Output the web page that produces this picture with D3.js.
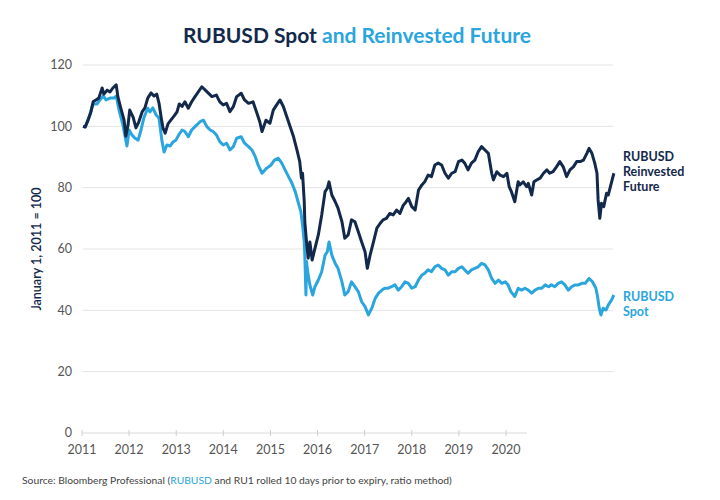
<!DOCTYPE html>
<html>
<head>
<meta charset="utf-8">
<script src="https://cdn.jsdelivr.net/npm/d3@7.9.0/dist/d3.min.js"></script>
<style>
  body { margin: 0; background: #fff; }
  svg { font-family: Lato, "Open Sans", sans-serif; }
</style>
</head>
<body>
<svg id="chart" width="720" height="500"></svg>
<script>
// decimal year, index value (Jan 1 2011 = 100)
const futureT = [2011.0, 2011.04, 2011.09, 2011.14, 2011.18, 2011.23, 2011.28, 2011.34, 2011.37, 2011.43, 2011.48, 2011.53, 2011.59, 2011.62, 2011.67, 2011.73, 2011.76, 2011.80, 2011.83, 2011.89, 2011.94, 2011.99,
  2012.05, 2012.10, 2012.15, 2012.21, 2012.26, 2012.31, 2012.35, 2012.39, 2012.42, 2012.46, 2012.51, 2012.56, 2012.62, 2012.67, 2012.71, 2012.76, 2012.81, 2012.87, 2012.93, 2012.99,
  2013.11, 2013.20, 2013.29, 2013.37, 2013.43, 2013.49, 2013.55, 2013.61, 2013.67, 2013.73, 2013.81, 2013.87, 2013.94,
  2014.02, 2014.09, 2014.14, 2014.18, 2014.25, 2014.32, 2014.38, 2014.44, 2014.50, 2014.56, 2014.62, 2014.68, 2014.74, 2014.80, 2014.85, 2014.88, 2014.90, 2014.93, 2014.94, 2014.97,
  2015.00, 2015.03, 2015.07, 2015.12, 2015.18, 2015.24, 2015.30, 2015.34, 2015.37, 2015.42, 2015.48, 2015.53, 2015.60, 2015.65, 2015.71, 2015.77, 2015.83, 2015.89, 2015.95,
  2016.01, 2016.05, 2016.10, 2016.16, 2016.22, 2016.28, 2016.33, 2016.39, 2016.45, 2016.51, 2016.57, 2016.63, 2016.69, 2016.72, 2016.78, 2016.84, 2016.90, 2016.96,
  2017.02, 2017.07, 2017.13, 2017.19, 2017.25, 2017.31, 2017.37, 2017.43, 2017.49, 2017.55, 2017.61, 2017.67, 2017.73, 2017.78, 2017.84, 2017.90, 2017.96,
  2018.02, 2018.08, 2018.14, 2018.20, 2018.26, 2018.29, 2018.35, 2018.41, 2018.47, 2018.53, 2018.57, 2018.61, 2018.67, 2018.73, 2018.76, 2018.82, 2018.88, 2018.91, 2018.97,
  2019.01, 2019.06, 2019.12, 2019.18, 2019.24, 2019.29, 2019.35, 2019.41, 2019.47, 2019.53, 2019.59, 2019.65, 2019.71, 2019.77, 2019.83, 2019.89, 2019.95, 2019.99,
  2020.04, 2020.09, 2020.13, 2020.15, 2020.18, 2020.21, 2020.25, 2020.30, 2020.33, 2020.39, 2020.43];
const futureV = [100, 99.8, 102, 104.7, 108, 108.6, 109.2, 112.5, 110.5, 111.8, 111.2, 112.5, 113.5, 109.6, 106, 102, 96.8, 100.4, 105.3, 103, 99.5, 101.4,
  104.7, 106, 109.2, 110.9, 109.9, 110.5, 107.6, 102.7, 99.5, 97.8, 100.8, 102, 103.4, 104.7, 107.3, 106.5, 108, 105.9, 108, 109.7,
  112.9, 111.3, 109.7, 110.2, 108, 107, 107.5, 104.8, 106.4, 109.7, 110.8, 108.6, 107.5,
  108, 104.3, 101.5, 98.3, 102, 101, 105.3, 107, 108.6, 106.4, 103.1, 99.9, 96.6, 92.3, 88.5, 83.1, 84.7, 75.4, 68.9, 62.3,
  57, 62.3, 56.4, 60.2, 64.6, 71.1, 78.7, 79.8, 81.9, 77.6, 75.4, 73.3, 68.9, 63.5, 64.6, 69.5, 68.9, 65.6, 62.3,
  59.1, 53.7, 58, 62.3, 66.8, 68.4, 69.5, 70, 71.6, 71.1, 72.7, 71.6, 74.3, 74.9, 76.5, 73.8, 72.7, 79.2,
  80.9, 81.9, 84.1, 83.6, 87.4, 88, 87.4, 84.7, 83.1, 84.7, 85.2, 88.5, 89, 88, 85.8, 88, 89,
  91.7, 93.4, 92.3, 91.2, 84.7, 82.5, 85.2, 84.1, 83.6, 84.7, 80.3, 78.7, 75.4, 81.9, 80.9, 81.9, 80.3, 81.4, 77.6,
  81.9, 82.5, 83.1, 84.7, 85.8, 84.7, 85.2, 86.8, 88.5, 86.8, 83.6, 85.8, 86.8, 88.5, 88.5, 89, 91.2, 92.8,
  91.2, 88, 84.7, 76, 70, 74.9, 73.8, 78.2, 77.6, 81.9, 84.7];

const spotT = [2011.0, 2011.04, 2011.12, 2011.18, 2011.25, 2011.30, 2011.36, 2011.41, 2011.48, 2011.55, 2011.59, 2011.64, 2011.71, 2011.78, 2011.82, 2011.87, 2011.92, 2011.98,
  2012.03, 2012.08, 2012.15, 2012.19, 2012.24, 2012.30, 2012.35, 2012.40, 2012.44, 2012.49, 2012.55, 2012.60, 2012.65, 2012.71, 2012.76, 2012.81, 2012.87, 2012.93, 2012.99,
  2013.08, 2013.14, 2013.20, 2013.26, 2013.31, 2013.37, 2013.43, 2013.49, 2013.55, 2013.61, 2013.67, 2013.73, 2013.81, 2013.87, 2013.94,
  2014.00, 2014.06, 2014.11, 2014.18, 2014.26, 2014.34, 2014.40, 2014.47, 2014.53, 2014.59, 2014.65, 2014.71, 2014.77, 2014.82, 2014.87, 2014.90, 2014.93, 2014.94, 2014.96, 2014.97,
  2015.00, 2015.03, 2015.08, 2015.12, 2015.18, 2015.24, 2015.30, 2015.34, 2015.37, 2015.42, 2015.48, 2015.53, 2015.60, 2015.65, 2015.71, 2015.77, 2015.83, 2015.89, 2015.95,
  2016.01, 2016.07, 2016.13, 2016.19, 2016.25, 2016.31, 2016.36, 2016.42, 2016.48, 2016.54, 2016.60, 2016.66, 2016.72, 2016.78, 2016.84, 2016.90, 2016.96,
  2017.02, 2017.07, 2017.13, 2017.19, 2017.25, 2017.31, 2017.37, 2017.43, 2017.49, 2017.55, 2017.61, 2017.67, 2017.73, 2017.78, 2017.84, 2017.90, 2017.96,
  2018.02, 2018.08, 2018.14, 2018.20, 2018.26, 2018.32, 2018.38, 2018.44, 2018.50, 2018.55, 2018.60, 2018.67, 2018.73, 2018.79, 2018.85, 2018.91, 2018.97,
  2019.03, 2019.09, 2019.15, 2019.21, 2019.27, 2019.32, 2019.38, 2019.44, 2019.50, 2019.56, 2019.62, 2019.68, 2019.74, 2019.80, 2019.86, 2019.92, 2019.99,
  2020.05, 2020.11, 2020.14, 2020.17, 2020.20, 2020.24, 2020.29, 2020.33, 2020.39, 2020.43];
const spotV = [100, 99.8, 103.7, 107.3, 107.3, 108.6, 109.9, 108.6, 109.2, 109.2, 109.9, 105.3, 100.4, 93.6, 98.8, 97.2, 96.2, 95.5,
  98.8, 102.7, 105.9, 104.7, 106, 103.7, 102.7, 95.5, 91.6, 93.9, 93.6, 94.9, 95.5, 97.5, 98.8, 98.3, 96.6, 98.8, 99.9,
  101.5, 102, 99.9, 98.8, 98.3, 97.2, 95, 93.9, 94.5, 92.3, 93.4, 96.1, 96.6, 94.5, 93.4,
  92.3, 90.1, 87.4, 84.7, 86.3, 87.4, 89, 89.6, 88, 85.8, 83.6, 81.5, 78.7, 75.4, 72.2, 67.8, 62.3, 58, 45, 55.9,
  51.5, 48.3, 45, 47.7, 49.9, 52.6, 58, 59.1, 62.3, 58, 55.3, 53.7, 49.3, 45, 46.1, 49.3, 47.7, 46.1, 42.8,
  41.2, 38.5, 40.7, 43.9, 45.6, 46.6, 47.2, 47.2, 47.7, 48.3, 46.6, 47.7, 49.3, 48.8, 47.2, 47.7, 49.9,
  51.5, 52.1, 53.2, 52.6, 54.2, 54.8, 53.7, 53.2, 51.5, 52.6, 52.6, 53.7, 54.2, 53.2, 52.1, 53.2, 53.7,
  54.2, 55.3, 54.8, 53.2, 50.4, 48.8, 49.9, 48.8, 49.3, 48.3, 46.1, 44.5, 47.2, 46.6, 47.2, 46.6, 45.6,
  46.6, 47.2, 47.2, 48.3, 47.7, 48.3, 47.7, 48.8, 49.3, 48.3, 46.6, 47.7, 48.3, 48.3, 48.8, 48.8, 50.4,
  49.3, 47.2, 44.5, 40.7, 38.5, 40.7, 40.1, 41.7, 43.4, 45];

const yTicks = [0, 20, 40, 60, 80, 100, 120];
const yearLabels = ['2011', '2012', '2013', '2014', '2015', '2016', '2017', '2018', '2019', '2020'];

const navy = '#13294b';
const blue = '#2aa5dd';

const svg = d3.select('#chart');

const x = d3.scaleLinear().domain([2011, 2020.45]).range([83, 615]);
const y = d3.scaleLinear().domain([0, 120]).range([433, 65]);
// the year labels in the original sit on their own evenly spaced slots
const xLab = d3.scalePoint().domain(yearLabels).range([82, 506]);

// grid
svg.append('g')
  .selectAll('line')
  .data(yTicks.filter(d => d > 0))
  .join('line')
  .attr('x1', 83).attr('x2', 613)
  .attr('y1', d => y(d)).attr('y2', d => y(d))
  .attr('stroke', '#e3e3e3').attr('stroke-width', 1);

svg.append('line')
  .attr('x1', 82).attr('x2', 527)
  .attr('y1', y(0)).attr('y2', y(0))
  .attr('stroke', '#d9d9d9');

svg.append('g')
  .selectAll('line')
  .data(yearLabels)
  .join('line')
  .attr('x1', d => xLab(d)).attr('x2', d => xLab(d))
  .attr('y1', y(0) - 3).attr('y2', y(0) + 3)
  .attr('stroke', '#cfcfcf');

// y labels
svg.append('g')
  .selectAll('text')
  .data(yTicks)
  .join('text')
  .attr('x', 72).attr('y', d => y(d))
  .attr('dy', '0.35em')
  .attr('text-anchor', 'end')
  .attr('font-size', 12.5)
  .attr('fill', '#555')
  .text(d => d);

// x labels
svg.append('g')
  .selectAll('text')
  .data(yearLabels)
  .join('text')
  .attr('x', d => xLab(d)).attr('y', 454)
  .attr('text-anchor', 'middle')
  .attr('font-size', 12.5)
  .attr('fill', '#555')
  .text(d => d);

svg.append('text')
  .attr('transform', `translate(41,${y(60)}) rotate(-90)`)
  .attr('text-anchor', 'middle')
  .attr('font-size', 12.5)
  .attr('font-weight', 600)
  .attr('fill', navy)
  .text('January 1, 2011 = 100');

const line = d3.line().x(d => x(d[0])).y(d => y(d[1]));

svg.append('path')
  .datum(d3.zip(spotT, spotV))
  .attr('d', line)
  .attr('fill', 'none')
  .attr('stroke', blue)
  .attr('stroke-width', 3)
  .attr('stroke-linejoin', 'round');

svg.append('path')
  .datum(d3.zip(futureT, futureV))
  .attr('d', line)
  .attr('fill', 'none')
  .attr('stroke', navy)
  .attr('stroke-width', 3)
  .attr('stroke-linejoin', 'round');

// title
const title = svg.append('text')
  .attr('x', 357).attr('y', 43)
  .attr('text-anchor', 'middle')
  .attr('font-size', 21)
  .attr('font-weight', 700);
title.append('tspan').attr('fill', navy).text('RUBUSD Spot ');
title.append('tspan').attr('fill', blue).text('and Reinvested Future');

// end labels
const futLab = svg.append('text')
  .attr('x', 623).attr('y', 161)
  .attr('font-size', 12.5).attr('font-weight', 700).attr('fill', navy);
['RUBUSD', 'Reinvested', 'Future'].forEach((t, i) =>
  futLab.append('tspan').attr('x', 623).attr('dy', i ? 15 : 0).text(t));

const spotLab = svg.append('text')
  .attr('x', 623).attr('y', 301)
  .attr('font-size', 12.5).attr('font-weight', 700).attr('fill', blue);
['RUBUSD', 'Spot'].forEach((t, i) =>
  spotLab.append('tspan').attr('x', 623).attr('dy', i ? 15 : 0).text(t));

// source
const src = svg.append('text')
  .attr('x', 22).attr('y', 484)
  .attr('font-size', 10.3)
  .attr('fill', '#444');
src.append('tspan').text('Source: Bloomberg Professional (');
src.append('tspan').attr('fill', blue).text('RUBUSD');
src.append('tspan').text(' and RU1 rolled 10 days prior to expiry, ratio method)');
</script>
</body>
</html>
